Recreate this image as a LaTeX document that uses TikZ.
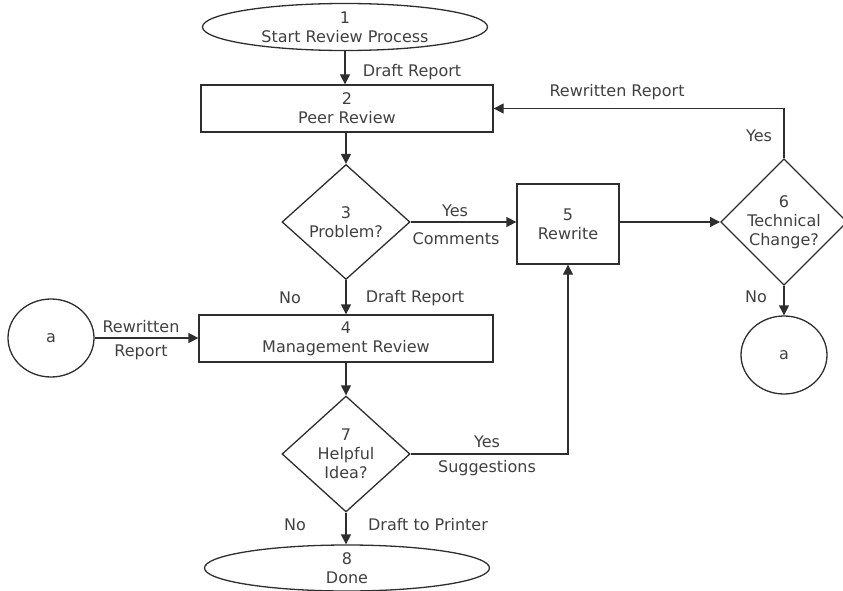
\documentclass[tikz,border=0pt]{standalone}
\usepackage{fontspec}
\setmainfont{DejaVu Sans}
\usetikzlibrary{shapes.geometric,arrows.meta}
\definecolor{ink}{HTML}{2E2E2E}
\definecolor{txt}{HTML}{404040}
\begin{document}
\begin{tikzpicture}[x=1pt,y=-1pt,
  every node/.style={font=\fontsize{16}{19}\selectfont, text=txt},
  shapebase/.style={draw=ink, line width=1.3pt, align=center, inner sep=0pt},
  terminal/.style={shapebase, ellipse, minimum width=285pt, minimum height=47pt},
  process/.style={shapebase, rectangle},
  decision/.style={shapebase, diamond, minimum width=128pt, minimum height=115pt},
  offpage/.style={shapebase, ellipse, minimum width=86pt, minimum height=78pt},
  lbl/.style={inner sep=0pt, anchor=center},
  flow/.style={draw=ink, line width=1.3pt, -{Triangle[length=10pt,width=10pt]}},
  plain/.style={draw=ink, line width=1.3pt}]
\useasboundingbox (0,0) rectangle (843,591);

% main column
\node[terminal] (s1) at (345,27) {1\\Start Review Process};
\node[process, minimum width=292pt, minimum height=47pt] (p2) at (347,108.5) {2\\Peer Review};
\node[decision] (d3) at (346,222) {3\\Problem?};
\node[process, minimum width=294pt, minimum height=47pt] (p4) at (346,338.5) {4\\Management Review};
\node[decision, minimum height=116pt] (d7) at (346,454) {7\\Helpful\\Idea?};
\node[terminal, minimum height=46pt] (e8) at (347,568) {8\\Done};

% rewrite branch
\node[process, minimum width=102pt, minimum height=80pt] (p5) at (568,224) {5\\Rewrite};
\node[decision, minimum width=122pt, minimum height=116pt] (d6) at (784,222) {6\\Technical\\Change?};
\node[offpage] (aR) at (784,355) {a};
\node[offpage] (aL) at (51,338) {a};

% connectors
\draw[flow] (s1.south) -- (s1.south |- p2.north);
\draw[flow] (p2.south -| d3.north) -- (d3.north);
\draw[flow] (d3.east) -- (d3.east -| p5.west);
\draw[flow] (p5.east |- d6.west) -- (d6.west);
\draw[flow] (d6.north) |- (p2.east);
\draw[flow] (d6.south) -- (aR.north);
\draw[flow] (aL.east) -- (aL.east -| p4.west);
\draw[flow] (d3.south) -- (d3.south |- p4.north);
\draw[flow] (p4.south -| d7.north) -- (d7.north);
\draw[flow] (d7.east) -| (p5.south);
\draw[flow] (d7.south) -- (d7.south |- e8.north);

% connector labels
\node[lbl] (l12) at (412,72) {Draft Report};
\node[lbl] (l62) at (617,92) {Rewritten Report};
\node[lbl] (l6y) at (759,136) {Yes};
\node[lbl] (l3y) at (455,211) {Yes};
\node[lbl] (l3c) at (456,239) {Comments};
\node[lbl] (l3n) at (290,298) {No};
\node[lbl] (l34) at (415,298) {Draft Report};
\node[lbl] (la1) at (141,327) {Rewritten};
\node[lbl] (la2) at (141,352) {Report};
\node[lbl] (l6n) at (756,297) {No};
\node[lbl] (l7y) at (487,442) {Yes};
\node[lbl] (l7s) at (487,468) {Suggestions};
\node[lbl] (l7n) at (295,525) {No};
\node[lbl] (l78) at (428,525) {Draft to Printer};
\end{tikzpicture}
\end{document}
